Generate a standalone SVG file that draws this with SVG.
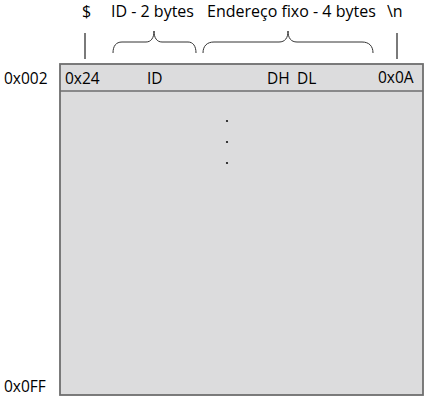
<svg xmlns="http://www.w3.org/2000/svg" width="436" height="402" viewBox="0 0 436 402">
  <style>
    .hdr { font-family: "Open Sans", "Liberation Sans", sans-serif; font-size: 16px; fill: #000; }
    .lbl { font-family: "Open Sans", "Liberation Sans", sans-serif; font-size: 15.5px; fill: #000; }
    .tick { stroke: #7a7a7a; stroke-width: 2; fill: none; }
    .brace { stroke: #333; stroke-width: 1; fill: none; }
    .mem { fill: #dcdcdd; stroke: #6e6e6e; stroke-width: 1.8; }
    .sep { stroke: #6e6e6e; stroke-width: 1.5; }
  </style>

  <!-- field headings -->
  <g id="headings">
    <text class="hdr" x="82" y="17">$</text>
    <text class="hdr" x="111" y="17">ID - 2 bytes</text>
    <text class="hdr" x="207" y="17">Endereço fixo - 4 bytes</text>
    <text class="hdr" x="387" y="17">\n</text>
  </g>

  <!-- markers pointing down to the first row -->
  <g id="connectors">
    <line class="tick" x1="85" y1="33" x2="85" y2="59"/>
    <line class="tick" x1="397" y1="33" x2="397" y2="59"/>
    <path class="brace" d="M113,53 C113,46 116,42 122,42 L146,42 C151,42 154,38 154,31 C154,38 157,42 162,42 L188,42 C193,42 196,46 196,53"/>
    <path class="brace" d="M203,53 C203,46 207,42 214,42 L279,42 C285,42 288,38 288,31 C288,38 291,42 297,42 L362,42 C369,42 373,46 373,53"/>
  </g>

  <!-- memory block -->
  <g id="memory">
    <rect class="mem" x="60" y="64" width="363" height="331"/>
    <line class="sep" x1="60" y1="91" x2="423" y2="91"/>
    <circle cx="227" cy="121" r="1.1" fill="#111"/>
    <circle cx="227" cy="142" r="1.1" fill="#111"/>
    <circle cx="227" cy="163" r="1.1" fill="#111"/>
  </g>

  <!-- first row contents -->
  <g id="row0">
    <text class="lbl" x="65" y="84">0x24</text>
    <text class="lbl" x="147" y="84">ID</text>
    <text class="lbl" x="267" y="84">DH</text>
    <text class="lbl" x="297" y="84">DL</text>
    <text class="lbl" x="378" y="83">0x0A</text>
  </g>

  <!-- addresses -->
  <g id="addresses">
    <text class="lbl" x="4" y="84">0x002</text>
    <text class="lbl" x="4" y="392">0x0FF</text>
  </g>
</svg>
